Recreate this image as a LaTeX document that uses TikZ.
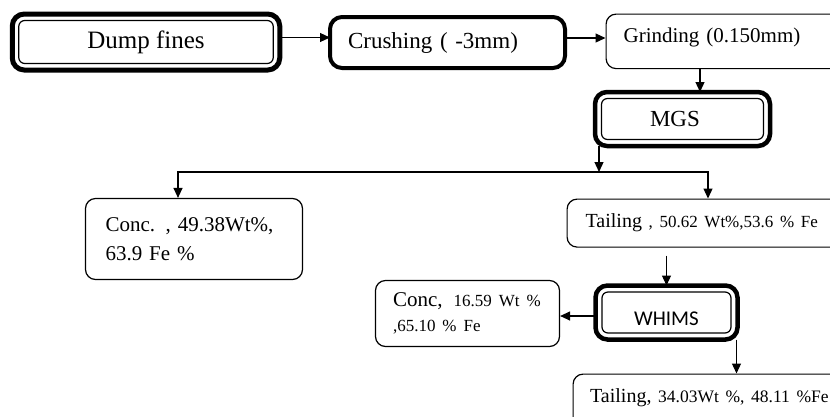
\documentclass[tikz,border=0pt]{standalone}
\usepackage{fontspec}
\setmainfont{Liberation Serif}
\newfontfamily\whimsfont{Carlito}
\usetikzlibrary{positioning, arrows.meta, calc}
\newcommand{\fsz}[2]{\fontsize{#1}{#2}\selectfont}
\newcommand{\innerring}[1]{\draw[line width=1.2pt, rounded corners=6pt] ($(#1.north west)+(6.5,6.5)$) rectangle ($(#1.south east)+(-6.5,-6.5)$);}

\begin{document}
\begin{tikzpicture}[x=1pt, y=-1pt,
		thinbox/.style={draw, line width=1.2pt, rounded corners=10pt, inner ysep=0pt, align=left},
		heavybox/.style={draw, line width=4.5pt, rounded corners=12pt, outer sep=0pt},
		flow/.style={-{Triangle[length=10pt,width=9pt]}, line width=1.2pt}]
		\useasboundingbox (0,0) rectangle (830,416);
		\clip (0,0) rectangle (830,416);
		
		% Top row
		\node[heavybox, line width=5pt, minimum width=267.5pt, minimum height=56pt, font=\fsz{25}{30}] (dump) at (146,42) {Dump fines};
		\node[heavybox, line width=4pt, minimum height=51pt, text width=199pt, inner xsep=18pt, align=left, font=\fsz{23}{28}] (crush) at (447.5,42.5) {Crushing ( -3mm)};
		\node[thinbox, anchor=north west, inner xsep=17.5pt, text width=260pt, text height=28.2pt, text depth=26.3pt, font=\fsz{21}{25}] (grind) at (605.5,13.5) {Grinding (0.150mm)};
		
		% Separators
		\node[heavybox, minimum height=54pt, text width=65pt, inner xsep=55pt, align=left, font=\fsz{23}{28}] (mgs) at (682.5,119) {MGS};
		\node[heavybox, minimum width=142pt, inner sep=0pt, text height=39.5pt, text depth=14.5pt, font=\whimsfont\fsz{21}{25}] (whims) at (666.5,312.5) {WHIMS};
		\innerring{dump}
		\innerring{mgs}
		\innerring{whims}
		
		% Products
		\node[thinbox, minimum height=81pt, text width=177pt, inner xsep=20pt, font=\fsz{21}{29.5}] (conc1) at (194,239) {Conc. , 49.38Wt\%,\\63.9 Fe \%};
		\node[thinbox, anchor=north west, minimum height=48pt, text width=260pt, inner xsep=18.5pt, font=\fsz{20}{24}] (tail1) at (566.5,198.5) {Tailing {\fsz{17}{20}, 50.62 Wt\%,53.6 \% Fe}};
		\node[thinbox, minimum height=66pt, text width=149pt, inner xsep=17.5pt, font=\fsz{21}{25}] (conc2) at (467.5,313.5) {\mbox{Conc,\hspace{4pt} {\fsz{17}{25}16.59 Wt \%}}\\{\fsz{17}{25},65.10 \% Fe}};
		\node[thinbox, anchor=north west, text width=260pt, inner xsep=17pt, text height=28pt, text depth=30pt, font=\fsz{20}{24}] (tail2) at (572.5,373.5) {Tailing, {\fsz{17.5}{22}34.03Wt \%, 48.11 \%Fe}};
		
		% Flow arrows
		\draw[flow] ([yshift=4.5pt]dump.east) -- ([yshift=4.5pt]dump.east -| crush.west);
		\draw[flow] ([yshift=4.5pt]crush.east) -- ([yshift=4.5pt]crush.east -| grind.west);
		\draw[flow] ([xshift=17.5pt]mgs.north |- grind.south) -- ([xshift=17.5pt]mgs.north);
		\coordinate (split) at (599,172);
		\draw[flow] (mgs.south -| split) -- (split);
		\draw[flow] (split) -| ([xshift=-16pt]conc1.north);
		\draw[flow] (split) -| ([xshift=141.5pt]tail1.north west);
		\draw[flow, shorten <=8pt] (tail1.south -| whims.north) -- (whims.north);
		\draw[flow] ([yshift=-3.5pt]whims.west) -- ([yshift=-3.5pt]whims.west -| conc2.east);
		\draw[flow] ([xshift=-1pt]whims.south east) -- ([xshift=-1pt]whims.south east |- tail2.north);
	\end{tikzpicture}
\end{document}
